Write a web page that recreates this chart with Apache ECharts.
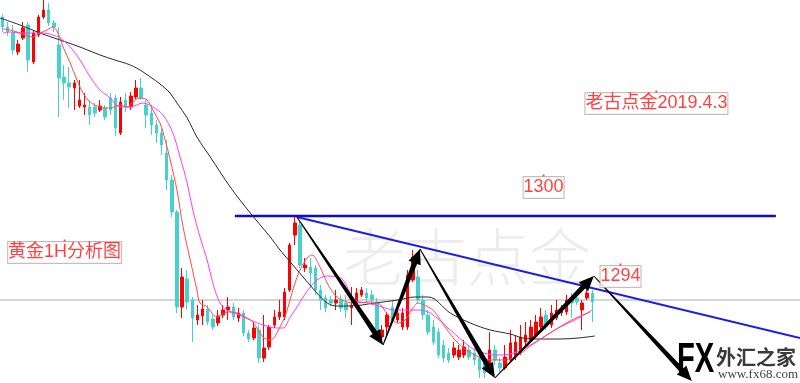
<!DOCTYPE html>
<html><head><meta charset="utf-8">
<script src="https://cdn.jsdelivr.net/npm/echarts@6/dist/echarts.min.js"></script>
<style>html,body{margin:0;padding:0;background:#fff}#c{width:800px;height:383px}</style>
</head><body><div id="c"></div>
<script>
// ---- candles (gold 1H) ----
const candleOpen = [1319.9,1318.9,1318.3,1316.4,1317.8,1319.1,1315.4,1318.1,1319.9,1320.6,
1319.3,1317.1,1313.9,1313.3,1312.8,1311.0,1310.9,1310.9,1310.9,1310.6,
1310.8,1311.8,1311.8,1308.3,1311.6,1310.9,1311.9,1312.8,1311.1,1310.3,
1309.1,1308.3,1306.3,1303.6,1300.4,1290.9,1293.7,1291.6,1289.6,1290.0,
1290.7,1289.7,1289.3,1290.1,1290.6,1290.9,1289.8,1290.3,1288.3,1287.8,
1288.6,1285.8,1286.9,1289.1,1289.9,1289.9,1292.6,1298.1,1299.1,1294.8,
1294.9,1294.8,1292.6,1291.8,1291.6,1291.3,1291.6,1291.3,1290.8,1291.3,
1292.1,1292.3,1292.1,1291.4,1287.9,1288.9,1290.9,1289.6,1288.9,1288.9,
1293.6,1293.9,1291.6,1290.1,1288.9,1288.4,1287.1,1286.3,1286.1,1285.9,
1286.1,1286.6,1286.3,1285.8,1285.3,1284.6,1286.6,1285.3,1284.8,1285.6,
1285.9,1286.3,1287.4,1287.6,1288.1,1288.9,1290.1,1289.1,1289.8,1290.3,
1290.4,1291.6,1291.8,1290.6,1291.8,1292.3];
const candleClose = [1318.9,1318.4,1316.6,1317.2,1318.8,1315.6,1318.3,1319.9,1320.6,1319.3,
1318.9,1313.8,1313.3,1312.9,1313.3,1311.6,1311.1,1310.1,1310.3,1311.0,
1309.9,1310.6,1308.8,1311.4,1310.9,1312.0,1312.8,1311.8,1310.1,1309.1,
1308.3,1307.1,1303.6,1300.4,1290.9,1293.9,1291.4,1289.8,1290.1,1290.7,
1289.4,1288.9,1290.0,1290.6,1290.9,1289.9,1290.3,1288.3,1287.7,1288.8,
1285.8,1286.8,1288.9,1289.9,1290.4,1292.4,1297.1,1299.3,1295.1,1295.1,
1294.3,1292.6,1291.6,1290.8,1291.3,1291.6,1290.8,1290.6,1291.1,1292.3,
1292.6,1291.8,1291.6,1288.6,1288.6,1290.1,1289.6,1290.3,1290.3,1294.1,
1295.9,1291.6,1290.1,1288.4,1287.4,1286.1,1285.8,1285.6,1286.8,1286.6,
1286.9,1285.9,1285.6,1284.6,1284.3,1286.6,1285.6,1284.8,1285.9,1287.3,
1287.4,1287.9,1288.1,1288.9,1289.4,1289.9,1288.9,1290.3,1290.6,1290.6,
1291.6,1291.3,1291.4,1291.3,1292.3,1291.4];
const candleLow = [1318.4,1318.0,1316.1,1316.1,1317.6,1314.4,1315.2,1317.9,1319.7,1319.0,
1318.4,1309.9,1311.6,1310.8,1310.6,1310.8,1310.1,1309.1,1309.9,1310.4,
1309.6,1310.1,1308.0,1308.1,1310.4,1310.6,1311.7,1311.6,1308.8,1308.1,
1307.3,1306.1,1302.6,1299.9,1290.3,1289.8,1290.6,1287.4,1289.1,1289.1,
1289.1,1288.6,1289.0,1289.8,1289.6,1289.6,1289.4,1288.0,1287.4,1287.6,
1285.3,1285.4,1286.6,1288.8,1289.6,1289.6,1292.4,1297.1,1294.8,1294.4,
1292.8,1292.1,1290.6,1290.4,1291.0,1290.6,1290.4,1289.8,1289.1,1291.0,
1291.9,1291.4,1291.1,1287.9,1287.6,1288.1,1289.3,1289.3,1288.6,1288.6,
1293.4,1291.3,1289.6,1288.1,1287.1,1285.8,1285.4,1285.3,1285.8,1285.6,
1285.8,1285.6,1285.1,1283.8,1283.8,1284.4,1285.1,1284.4,1284.6,1285.4,
1285.6,1286.1,1287.1,1287.3,1287.8,1288.6,1288.6,1288.8,1289.6,1290.0,
1290.1,1289.8,1291.1,1288.6,1291.6,1289.4];
const candleHigh = [1320.2,1319.4,1319.1,1317.6,1319.4,1319.4,1318.6,1320.1,1321.6,1321.3,
1319.6,1318.9,1315.1,1314.9,1313.6,1313.6,1312.3,1311.6,1311.3,1311.6,
1311.1,1312.3,1312.1,1311.9,1312.3,1312.4,1313.6,1313.8,1311.6,1311.1,
1309.6,1308.8,1307.6,1304.1,1300.6,1294.8,1294.6,1291.9,1291.1,1291.6,
1291.1,1290.1,1290.6,1291.1,1291.9,1291.3,1290.8,1290.6,1288.6,1289.4,
1289.1,1290.1,1289.1,1290.6,1291.6,1292.8,1297.3,1299.9,1299.4,1295.8,
1295.8,1295.1,1293.1,1292.1,1292.0,1292.6,1292.1,1292.1,1292.9,1292.8,
1292.9,1292.8,1292.6,1291.8,1289.1,1290.4,1291.6,1290.6,1290.8,1294.6,
1296.6,1294.6,1292.1,1290.6,1289.6,1288.8,1287.6,1286.8,1287.4,1287.1,
1287.6,1287.1,1286.8,1286.1,1285.8,1288.4,1287.1,1285.8,1287.1,1288.6,
1288.1,1289.1,1289.4,1289.6,1290.1,1290.8,1290.6,1291.1,1291.6,1291.1,
1292.1,1292.3,1292.0,1291.6,1292.6,1292.6];

// ---- moving averages: [slot, price] ----
const maFast = [[0.1,1318.7],[1.5,1318.6],[3.4,1318.3],[5.9,1317.9],[7.3,1318.3],[8.7,1318.6],[9.8,1318.9],[10.8,1318.3],
[11.8,1316.9],[13.2,1315.3],[14.5,1313.6],[15.7,1312.3],[17.1,1311.4],[19.0,1310.9],[21.0,1310.8],[22.9,1311.1],
[24.3,1310.9],[25.4,1311.4],[26.8,1311.8],[28.2,1311.6],[29.3,1310.6],[30.7,1309.3],[31.7,1307.6],[32.7,1305.6],
[34.0,1302.6],[35.2,1298.9],[36.6,1295.6],[37.9,1292.6],[38.5,1291.3],[39.9,1290.9],[41.8,1289.9],[43.8,1290.4],
[45.7,1290.3],[47.7,1289.8],[48.8,1289.4],[50.8,1287.9],[52.2,1287.6],[54.1,1288.9],[55.5,1290.6],[56.6,1292.6],
[58.0,1294.6],[59.4,1295.8],[60.3,1296.1],[61.9,1294.9],[63.3,1293.3],[65.2,1291.9],[67.2,1291.4],[68.7,1291.3],
[71.3,1291.4],[73.2,1291.3],[75.2,1290.1],[77.1,1289.3],[78.5,1289.6],[79.8,1290.6],[81.0,1291.3],[83.0,1290.9],
[84.3,1290.4],[86.3,1288.9],[88.8,1287.3],[92.1,1286.1],[95.4,1285.6],[98.0,1285.6],[100.5,1286.1],[103.2,1287.1],
[107.1,1288.4],[111.0,1289.6],[114.6,1290.4]];
const maMid = [[0.1,1318.3],[1.5,1318.4],[3.4,1318.3],[5.9,1318.3],[7.9,1318.3],[9.8,1318.1],[11.2,1317.8],[13.2,1316.9],
[15.1,1315.6],[17.1,1313.9],[19.0,1312.6],[21.0,1311.8],[22.9,1310.9],[24.9,1310.9],[27.4,1311.3],[29.3,1310.9],
[31.3,1310.1],[33.2,1308.3],[34.6,1305.9],[36.0,1303.3],[37.1,1300.6],[38.5,1297.9],[39.9,1295.6],[41.0,1293.3],
[42.4,1291.3],[43.8,1290.6],[45.7,1290.2],[48.3,1289.6],[50.8,1289.1],[53.5,1288.8],[54.7,1288.8],[56.1,1289.9],
[57.4,1290.9],[58.6,1291.9],[60.0,1292.9],[61.3,1293.6],[63.3,1294.0],[65.2,1293.9],[66.4,1293.6],[68.7,1291.6],
[71.3,1291.3],[74.0,1290.9],[76.5,1290.6],[79.1,1290.6],[81.0,1290.6],[83.4,1290.3],[87.3,1288.6],[91.2,1286.9],
[93.1,1286.4],[96.4,1286.1],[99.0,1286.2],[101.9,1286.8],[105.2,1287.8],[108.3,1288.8],[111.6,1289.6],[115.0,1290.6]];
const maSlow = [[-0.5,1319.8],[3.4,1319.1],[7.3,1318.3],[11.2,1317.6],[15.1,1316.9],[19.0,1316.1],[21.9,1315.6],[24.9,1315.1],
[27.4,1314.4],[32.1,1312.6],[34.0,1311.3],[36.0,1309.8],[37.9,1307.9],[40.5,1305.9],[44.4,1302.9],[48.3,1300.3],
[52.2,1297.9],[54.1,1296.6],[56.1,1295.4],[58.6,1293.9],[61.3,1292.3],[63.3,1291.3],[65.2,1291.0],[67.8,1291.0],
[72.6,1291.3],[77.1,1291.6],[80.4,1291.9],[83.0,1291.9],[87.3,1290.3],[91.2,1289.3],[95.1,1288.6],[99.0,1288.2],
[101.5,1287.8],[104.8,1287.7],[108.7,1287.7],[112.2,1287.8],[115.5,1288.0]];

// ---- drawn annotations ----
const slotCount = 156;
const priceMin = 1283.3, priceMax = 1321.6;
const pivotLevel = 1291.6;
const resistanceLevel = 1300.0;
const resistanceSpan = [45.3, 150.8];
const trendLine = [[57.4, 1299.9], [155.5, 1287.8]];
const swingPoints = [[57.4,1299.9],[74.2,1287.1],[81.4,1296.7],[96.0,1283.8],[115.3,1294.0],[134.4,1283.5]];
const labelTexts = ['老古点金2019.4.3', '1300', '1294', '黄金1H分析图'];
const labelPos = [[127.5, 1311.25], [105.5, 1302.85], [120.5, 1293.95], [12.1, 1296.35]];
const labelDotOffset = 1.2;

const slots = Array.from({length: slotCount}, (_, i) => String(i));
const candles = candleOpen.map((o, i) => [o, candleClose[i], candleLow[i], candleHigh[i]]);
const FONT = '"Liberation Sans", "Noto Sans CJK SC", sans-serif';
const RED = '#ff0000', TEAL = '#48d1cc';

const chart = echarts.init(document.getElementById('c'), null, {renderer: 'canvas'});
chart.setOption({
  animation: false,
  backgroundColor: '#ffffff',
  grid: {left: 0, right: 0, top: 0, bottom: 0, containLabel: false},
  xAxis: [
    {type: 'category', data: slots, show: false, boundaryGap: true},
    {type: 'value', min: -0.5, max: slotCount - 0.5, show: false}
  ],
  yAxis: {type: 'value', min: priceMin, max: priceMax, show: false},
  graphic: [
    {type: 'text', left: 343, top: 226, z: 0, silent: true,
     style: {text: '老古点金', fontSize: 62, fontFamily: '"Noto Sans CJK SC", sans-serif', fontWeight: 300, fill: '#ededed'}},
    {type: 'text', left: 677, top: 339, z: 1, scaleX: 0.68, silent: true,
     style: {text: 'FX', fontSize: 43, fontWeight: 'bold', fontFamily: '"Liberation Sans", sans-serif',
       fill: new echarts.graphic.LinearGradient(0, 0, 0, 1, [{offset: 0, color: '#7ab8ee'}, {offset: 1, color: '#2f74c4'}])}},
    {type: 'text', left: 716, top: 347, z: 1, silent: true,
     style: {text: '外汇之家', fontSize: 20, fontWeight: 'bold', fontFamily: '"Noto Sans CJK SC", sans-serif', fill: '#3a3a3a'}},
    {type: 'text', left: 718, top: 368, z: 1, silent: true,
     style: {text: 'www.fx68.com', fontSize: 13, fontFamily: '"Liberation Serif", serif', fill: '#444'}}
  ],
  series: [
    {type: 'line', xAxisIndex: 1, z: 1, symbol: 'none', silent: true,
     data: [[-0.5, pivotLevel], [slotCount - 0.5, pivotLevel]],
     lineStyle: {color: '#a6aeb8', width: 1}},
    {type: 'candlestick', xAxisIndex: 0, z: 3, barWidth: 3, data: candles,
     itemStyle: {color: RED, color0: TEAL, borderColor: RED, borderColor0: TEAL, borderWidth: 1}},
    {type: 'line', xAxisIndex: 1, z: 4, symbol: 'none', smooth: 0.35, data: maSlow,
     lineStyle: {color: '#2a2a2a', width: 1}},
    {type: 'line', xAxisIndex: 1, z: 4, symbol: 'none', smooth: 0.35, data: maMid,
     lineStyle: {color: '#ff3cff', width: 1}},
    {type: 'line', xAxisIndex: 1, z: 4, symbol: 'none', smooth: 0.35, data: maFast,
     lineStyle: {color: '#ff4a4a', width: 1}},
    {type: 'line', xAxisIndex: 1, z: 6, symbol: 'none', silent: true,
     data: [[resistanceSpan[0], resistanceLevel], [resistanceSpan[1], resistanceLevel]],
     lineStyle: {color: '#0d0dc8', width: 2.6}},
    {type: 'line', xAxisIndex: 1, z: 6, symbol: 'none', silent: true, data: trendLine,
     lineStyle: {color: '#1c1ce6', width: 1.8}},
    {type: 'custom', xAxisIndex: 1, z: 10, silent: true,
     data: swingPoints.slice(0, -1).map((p, i) => [p[0], p[1], swingPoints[i + 1][0], swingPoints[i + 1][1]]),
     encode: {x: [0, 2], y: [1, 3]},
     renderItem: function (params, api) {
       const a = api.coord([api.value(0), api.value(1)]);
       const b = api.coord([api.value(2), api.value(3)]);
       const dx = b[0] - a[0], dy = b[1] - a[1], L = Math.hypot(dx, dy);
       const ux = dx / L, uy = dy / L, nx = -uy, ny = ux;
       const hl = 15, hw = 6.5, w0 = 0.5, w1 = 2.6;
       const bx = b[0] - ux * hl, by = b[1] - uy * hl;
       const pts = [[a[0] + nx * w0, a[1] + ny * w0], [bx + nx * w1, by + ny * w1], [bx + nx * hw, by + ny * hw],
         [b[0], b[1]], [bx - nx * hw, by - ny * hw], [bx - nx * w1, by - ny * w1], [a[0] - nx * w0, a[1] - ny * w0]];
       return {type: 'polygon', shape: {points: pts}, style: {fill: '#000'}};
     }},
    {type: 'scatter', xAxisIndex: 1, z: 12, silent: true, symbolSize: 1,
     itemStyle: {color: 'rgba(0,0,0,0)'},
     data: labelPos,
     label: {show: true, position: 'inside', formatter: (p) => labelTexts[p.dataIndex],
       color: '#ff1010', fontSize: 18, fontFamily: FONT, lineHeight: 20,
       backgroundColor: '#ffffff', borderColor: '#b5ada6', borderWidth: 1, padding: [1, 0, 0, 0]}},
    {type: 'scatter', xAxisIndex: 1, z: 13, silent: true, symbol: 'rect', symbolSize: [2, 2],
     itemStyle: {color: '#ff2020'},
     data: labelPos.map(p => [p[0], p[1] + labelDotOffset])}
  ]
});
</script>
</body></html>
